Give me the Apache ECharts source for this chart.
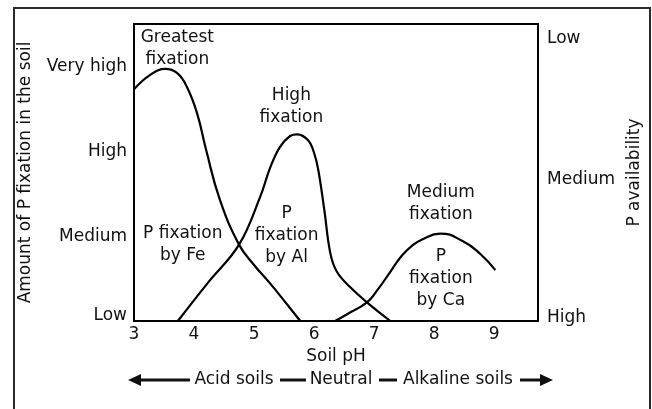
<!DOCTYPE html>
<html>
<head>
<meta charset="utf-8">
<script src="https://cdn.jsdelivr.net/npm/echarts@6/dist/echarts.min.js"></script>
<style>html,body{margin:0;padding:0;background:#fff;}#c{width:652px;height:409px;}</style>
</head>
<body>
<div id="c"></div>
<script>
// ---- data ----
const xTicks = [3, 4, 5, 6, 7, 8, 9];
const leftLevels = ['Low', 'Medium', 'High', 'Very high'];   // at 0,1,2,3
const rightLevels = ['High', 'Medium', 'Low'];               // at 0,0.5,1

const feX = [3.0, 3.27, 3.52, 3.72, 3.88, 4.05, 4.2, 4.43, 4.75, 5.0, 5.27, 5.5, 5.77];
const feY = [2.73, 2.90, 2.97, 2.92, 2.76, 2.45, 2.02, 1.43, 0.90, 0.66, 0.44, 0.24, 0];

const alX = [3.73, 4.23, 4.75, 5.1, 5.27, 5.43, 5.6, 5.72, 5.9, 6.0, 6.07, 6.17, 6.27, 6.38, 6.6, 6.88, 7.27];
const alY = [0, 0.45, 0.90, 1.46, 1.81, 2.05, 2.18, 2.20, 2.13, 1.98, 1.78, 1.31, 0.80, 0.58, 0.40, 0.22, 0];

const caX = [6.35, 6.55, 6.88, 7.05, 7.27, 7.45, 7.62, 7.8, 8.1, 8.48, 8.77, 9.02];
const caY = [0, 0.08, 0.22, 0.36, 0.58, 0.76, 0.88, 0.96, 1.03, 0.94, 0.79, 0.60];

const noteText = ['Greatest\nfixation', 'High\nfixation', 'Medium\nfixation',
                  'P fixation\nby Fe', 'P\nfixation\nby Al', 'P\nfixation\nby Ca'];
const noteX = [3.73, 5.63, 8.12, 3.82, 5.55, 8.12];
const noteY = [3.21, 2.52, 1.38, 0.90, 1.00, 0.49];

// ---- chart ----
const FONT = 'DejaVu Sans';
const TXT = '#111';
const pairs = (xs, ys) => xs.map((x, i) => [x, ys[i]]);
const chart = echarts.init(document.getElementById('c'), null, {renderer: 'canvas'});

const lineSeries = (name, xs, ys, sm) => ({
  name, type: 'line', data: pairs(xs, ys), smooth: sm, symbol: 'none',
  lineStyle: {color: '#000', width: 2.2}, yAxisIndex: 0, z: 3
});

chart.setOption({
  animation: false,
  backgroundColor: '#fff',
  textStyle: {fontFamily: FONT},
  grid: {left: 134, top: 24, right: 114, bottom: 88, show: true, borderColor: '#000', borderWidth: 2, backgroundColor: 'transparent'},
  xAxis: {
    type: 'value', min: 3, max: 9.73, interval: 1,
    name: 'Soil pH', nameLocation: 'middle', nameGap: 25,
    nameTextStyle: {fontFamily: FONT, fontSize: 17, color: TXT},
    axisLine: {show: true, lineStyle: {color: '#000', width: 2}},
    axisTick: {show: false}, splitLine: {show: false},
    axisLabel: {
      margin: 5, fontFamily: FONT, fontSize: 17, color: TXT,
      formatter: v => (xTicks.indexOf(Math.round(v * 100) / 100) >= 0 ? String(v) : '')
    }
  },
  yAxis: [{
    type: 'value', min: 0, max: 3.5, interval: 1, position: 'left',
    name: 'Amount of P fixation in the soil', nameLocation: 'middle', nameGap: 100, nameRotate: 90,
    nameTextStyle: {fontFamily: FONT, fontSize: 17, color: TXT},
    axisLine: {show: true, lineStyle: {color: '#000', width: 2}},
    axisTick: {show: false}, splitLine: {show: false},
    axisLabel: {
      margin: 7, fontFamily: FONT, fontSize: 17, color: TXT, showMaxLabel: false,
      formatter: v => {
        const t = leftLevels[Math.round(v)];
        if (Math.abs(v - Math.round(v)) > 1e-6 || !t) return '';
        return v === 0 ? '{lo|' + t + '}' : t;
      },
      rich: {lo: {fontFamily: FONT, fontSize: 17, color: TXT, padding: [0, 0, 10, 0]}}
    }
  }, {
    type: 'value', min: 0, max: 1.05, interval: 0.5, position: 'right',
    name: 'P availability', nameLocation: 'middle', nameGap: 88, nameRotate: 90,
    nameTextStyle: {fontFamily: FONT, fontSize: 17, color: TXT},
    axisLine: {show: true, lineStyle: {color: '#000', width: 2}},
    axisTick: {show: false}, splitLine: {show: false},
    axisLabel: {
      margin: 9, fontFamily: FONT, fontSize: 17, color: TXT, showMaxLabel: false,
      formatter: v => {
        const i = Math.round(v * 2);
        if (Math.abs(v * 2 - i) > 1e-6 || !rightLevels[i]) return '';
        return i === 0 ? '{hi|' + rightLevels[i] + '}' : rightLevels[i];
      },
      rich: {hi: {fontFamily: FONT, fontSize: 17, color: TXT, padding: [0, 0, 6, 0]}}
    }
  }],
  series: [
    lineSeries('Fe', feX, feY, 0.45),
    lineSeries('Al', alX, alY, 0.4),
    lineSeries('Ca', caX, caY, 0.5),
    {
      type: 'scatter', symbol: 'circle', symbolSize: 1, itemStyle: {color: '#fff', opacity: 1},
      data: pairs(noteX, noteY).map((p, i) => ({value: p, name: noteText[i]})),
      label: {
        show: true, position: [0, 0], formatter: p => p.name, opacity: 1,
        fontFamily: FONT, fontSize: 17, lineHeight: 22, color: TXT, align: 'center', verticalAlign: 'middle',
        textBorderWidth: 0
      },
      emphasis: {disabled: true},
      silent: true, z: 4
    }
  ],
  graphic: [
    {type: 'rect', shape: {x: 14, y: 8, width: 636, height: 420}, style: {fill: 'none', stroke: '#2a2a2a', lineWidth: 2}, silent: true},
    {type: 'line', shape: {x1: 136, y1: 380, x2: 190, y2: 380}, style: {stroke: '#111', lineWidth: 3}},
    {type: 'polygon', shape: {points: [[128, 380], [141, 374], [141, 386]]}, style: {fill: '#111'}},
    {type: 'text', x: 234, y: 380, style: {text: 'Acid soils', font: '17px "DejaVu Sans"', fill: TXT, textAlign: 'center', textVerticalAlign: 'middle'}},
    {type: 'line', shape: {x1: 280, y1: 380, x2: 306, y2: 380}, style: {stroke: '#111', lineWidth: 3}},
    {type: 'text', x: 341, y: 380, style: {text: 'Neutral', font: '17px "DejaVu Sans"', fill: TXT, textAlign: 'center', textVerticalAlign: 'middle'}},
    {type: 'line', shape: {x1: 379, y1: 380, x2: 397, y2: 380}, style: {stroke: '#111', lineWidth: 3}},
    {type: 'text', x: 458, y: 380, style: {text: 'Alkaline soils', font: '17px "DejaVu Sans"', fill: TXT, textAlign: 'center', textVerticalAlign: 'middle'}},
    {type: 'line', shape: {x1: 520, y1: 380, x2: 545, y2: 380}, style: {stroke: '#111', lineWidth: 3}},
    {type: 'polygon', shape: {points: [[553, 380], [540, 374], [540, 386]]}, style: {fill: '#111'}}
  ]
});
</script>
</body>
</html>
